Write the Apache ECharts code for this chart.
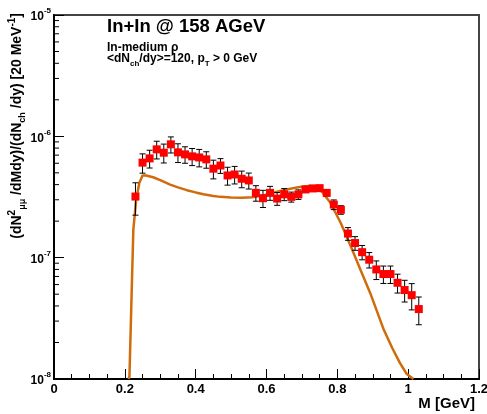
<!DOCTYPE html>
<html>
<head>
<meta charset="utf-8">
<script src="https://cdn.jsdelivr.net/npm/echarts@6/dist/echarts.min.js"></script>
<style>
html,body{margin:0;padding:0;background:#fff;}
#chart{width:487px;height:414px;}
</style>
</head>
<body>
<div id="chart"></div>
<script>
// Data
const massBins = [0.23,0.25,0.27,0.29,0.31,0.33,0.35,0.37,0.39,0.41,0.43,0.45,0.47,0.49,0.51,0.53,0.55,0.57,0.59,0.61,0.63,0.65,0.67,0.69,0.71,0.73,0.75,0.77,0.79,0.81,0.83,0.85,0.87,0.89,0.91,0.93,0.95,0.97,0.99,1.01,1.03];
const dataValues = [3.19e-7,6.07e-7,6.58e-7,7.81e-7,7.33e-7,8.59e-7,7.38e-7,7.10e-7,6.84e-7,6.70e-7,6.46e-7,5.41e-7,5.75e-7,4.76e-7,4.85e-7,4.47e-7,4.33e-7,3.42e-7,3.09e-7,3.42e-7,3.07e-7,3.33e-7,3.17e-7,3.32e-7,3.65e-7,3.72e-7,3.74e-7,3.42e-7,2.74e-7,2.48e-7,1.58e-7,1.32e-7,1.11e-7,9.62e-8,8.00e-8,7.33e-8,7.33e-8,6.21e-8,5.41e-8,4.91e-8,3.77e-8];
const dataErrors = [0.95e-7,1.1e-7,1.1e-7,1.3e-7,1.3e-7,1.3e-7,1.3e-7,1.1e-7,1.1e-7,1.1e-7,1.0e-7,0.95e-7,0.8e-7,0.8e-7,0.8e-7,0.7e-7,0.65e-7,0.5e-7,0.5e-7,0.45e-7,0.37e-7,0.38e-7,0.3e-7,0.3e-7,0.2e-7,0.2e-7,0.2e-7,0.2e-7,0.25e-7,0.2e-7,0.19e-7,0.17e-7,0.15e-7,1.4e-8,1.4e-8,1.2e-8,1.2e-8,1.1e-8,1.1e-8,1.2e-8,0.97e-8];
const modelMass = [0.211,0.213,0.219,0.224,0.232,0.241,0.250,0.260,0.280,0.300,0.328,0.350,0.375,0.400,0.422,0.450,0.470,0.500,0.530,0.560,0.590,0.610,0.630,0.660,0.690,0.710,0.733,0.745,0.760,0.780,0.810,0.840,0.865,0.893,0.930,0.955,0.977,0.996,1.015];
const modelValues = [1.0e-8,1.05e-8,4.8e-8,1.7e-7,3.0e-7,4.15e-7,4.75e-7,4.75e-7,4.6e-7,4.35e-7,4.0e-7,3.8e-7,3.6e-7,3.45e-7,3.33e-7,3.22e-7,3.17e-7,3.13e-7,3.12e-7,3.15e-7,3.25e-7,3.37e-7,3.5e-7,3.67e-7,3.8e-7,3.87e-7,3.9e-7,3.75e-7,3.4e-7,2.85e-7,1.92e-7,1.2e-7,8.0e-8,5.1e-8,2.6e-8,1.8e-8,1.35e-8,1.1e-8,1.0e-8];
const xTicks = [0,0.2,0.4,0.6,0.8,1,1.2];
const yDecades = [1e-8,1e-7,1e-6,1e-5];
const yMinorTicks = [];
for (let d = 0; d < yDecades.length - 1; d++) {
  for (let k = 2; k <= 9; k++) yMinorTicks.push(k * yDecades[d]);
}

const FONT = '"Liberation Sans", Arial, Helvetica, sans-serif';
const chart = echarts.init(document.getElementById('chart'), null, {renderer: 'canvas'});

const pointData = massBins.map((m, i) => [m, dataValues[i]]);
const errData = massBins.map((m, i) => [m, dataValues[i] - dataErrors[i], dataValues[i] + dataErrors[i]]);
const modelData = modelMass.map((m, i) => [m, modelValues[i]]);

const option = {
  animation: false,
  backgroundColor: '#ffffff',
  grid: {left: 54, right: 8, top: 15, bottom: 35, show: true, borderColor: '#444', borderWidth: 2, backgroundColor: 'transparent',
         containLabel: false, outerBoundsMode: 'none'},
  xAxis: {
    type: 'value', min: 0, max: 1.2, interval: 0.2,
    axisLine: {show: true, onZero: false, lineStyle: {color: '#000', width: 2}},
    axisTick: {show: true, inside: true, length: 10, lineStyle: {color: '#000', width: 1}},
    minorTick: {show: true, splitNumber: 4, length: 5, lineStyle: {color: '#000', width: 1}},
    splitLine: {show: false},
    axisLabel: {color: '#000', fontFamily: FONT, fontWeight: 'bold', fontSize: 13, margin: 4,
      formatter: v => String(+v.toFixed(1))},
    name: 'M [GeV]', nameLocation: 'end', nameGap: 0,
    nameTextStyle: {color: '#000', fontFamily: FONT, fontWeight: 'bold', fontSize: 15, align: 'right', verticalAlign: 'top', padding: [17, 4, 0, 0]}
  },
  yAxis: {
    type: 'log', logBase: 10, min: 1e-8, max: 1e-5,
    axisLine: {show: true, onZero: false, lineStyle: {color: '#000', width: 2}},
    axisTick: {show: true, inside: true, length: 10, lineStyle: {color: '#000', width: 1}},
    splitLine: {show: false},
    axisLabel: {color: '#000', fontFamily: FONT, fontWeight: 'bold', fontSize: 12, margin: 3,
      formatter: v => '{b|10}{s|' + Math.round(Math.log10(v)) + '}',
      rich: {
        b: {fontFamily: FONT, fontWeight: 'bold', fontSize: 12, color: '#000', lineHeight: 16, verticalAlign: 'bottom'},
        s: {fontFamily: FONT, fontWeight: 'bold', fontSize: 8, color: '#000', lineHeight: 16, verticalAlign: 'top'}
      }
    }
  },
  graphic: [
    {type: 'text', left: 107, top: 17, style: {text: 'In+In @ 158 AGeV', fill: '#000', font: 'bold 18.5px ' + FONT}},
    {type: 'text', left: 107, top: 42, style: {text: 'In-medium ρ', fill: '#000', font: 'bold 12px ' + FONT}},
    {type: 'text', left: 107, top: 53, style: {
      text: '{m|<dN}{sub|ch}{m|/dy>=120, p}{sub|T}{m| > 0 GeV}',
      rich: {
        m: {fontFamily: FONT, fontWeight: 'bold', fontSize: 12, fill: '#000', lineHeight: 15, verticalAlign: 'top'},
        sub: {fontFamily: FONT, fontWeight: 'bold', fontSize: 8, fill: '#000', lineHeight: 15, verticalAlign: 'bottom'}
      }}},
    {type: 'text', x: 17, y: 13, rotation: Math.PI / 2, style: {
      text: '{m|(dN}{sup|2}{sub|μμ}{m| /dMdy)/(dN}{sub|ch}{m| /dy) [20 MeV}{sup|-1}{m|]}',
      align: 'right', verticalAlign: 'middle',
      rich: {
        m: {fontFamily: FONT, fontWeight: 'bold', fontSize: 14, fill: '#000', lineHeight: 20, verticalAlign: 'middle'},
        sup: {fontFamily: FONT, fontWeight: 'bold', fontSize: 10, fill: '#000', lineHeight: 20, verticalAlign: 'top'},
        sub: {fontFamily: FONT, fontWeight: 'bold', fontSize: 9, fill: '#000', lineHeight: 20, verticalAlign: 'bottom'}
      }}}
  ],
  series: [
    {
      type: 'custom', name: 'minorTicksY', silent: true, clip: false,
      data: yMinorTicks.map(v => [0, v]),
      renderItem: (params, api) => {
        const p = api.coord([0, api.value(1)]);
        return {type: 'line', shape: {x1: p[0], y1: p[1], x2: p[0] + 5, y2: p[1]}, style: {stroke: '#000', lineWidth: 1}};
      },
      z: 5
    },
    {
      type: 'line', name: 'model', data: modelData, showSymbol: false, smooth: false,
      lineStyle: {color: '#cf6c0c', width: 2.5}, itemStyle: {color: '#cf6c0c'}, z: 2
    },
    {
      type: 'custom', name: 'errors', silent: true,
      data: errData,
      renderItem: (params, api) => {
        const lo = api.coord([api.value(0), api.value(1)]);
        const hi = api.coord([api.value(0), api.value(2)]);
        const c = 3;
        return {type: 'group', children: [
          {type: 'line', shape: {x1: lo[0], y1: lo[1], x2: hi[0], y2: hi[1]}, style: {stroke: '#000', lineWidth: 1}},
          {type: 'line', shape: {x1: lo[0] - c, y1: lo[1], x2: lo[0] + c, y2: lo[1]}, style: {stroke: '#000', lineWidth: 1}},
          {type: 'line', shape: {x1: hi[0] - c, y1: hi[1], x2: hi[0] + c, y2: hi[1]}, style: {stroke: '#000', lineWidth: 1}}
        ]};
      },
      z: 3
    },
    {
      type: 'scatter', name: 'data', data: pointData, symbol: 'rect', symbolSize: 8,
      itemStyle: {color: '#ff0000', opacity: 1}, z: 4
    }
  ]
};
chart.setOption(option);
</script>
</body>
</html>
